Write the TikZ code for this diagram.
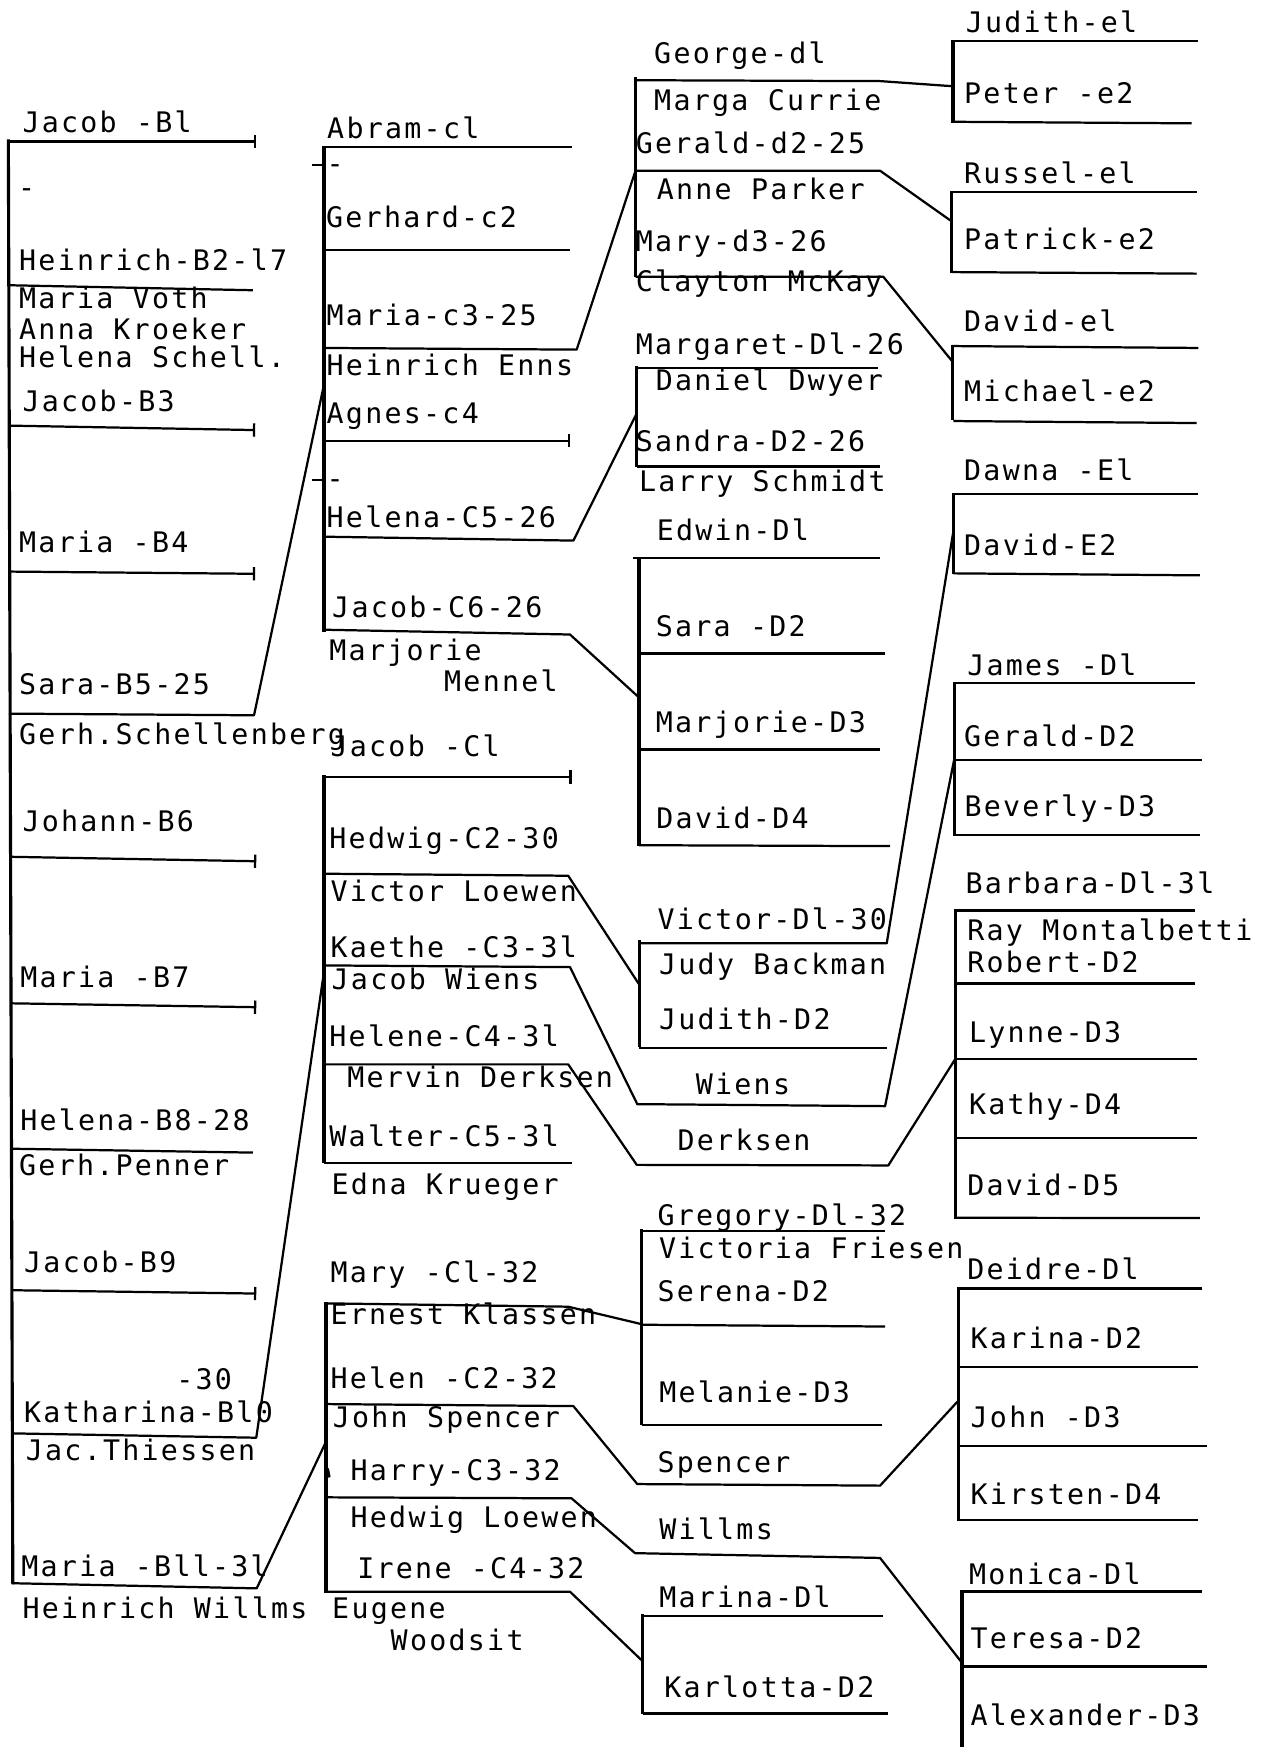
\documentclass[tikz,border=0pt]{standalone}
\usepackage{fontspec}
\usetikzlibrary{arrows.meta}
\newfontfamily\tw[LetterSpace=8]{DejaVu Sans Mono}
\tikzset{
  lbl/.style={anchor=base west, inner sep=0pt, yshift=-1pt, font=\tw\fontsize{25.4}{28}\selectfont},
  hl/.style={line width=2pt, line join=round},
  vl/.style={line width=2.8pt},
  endbar/.style={-{Bar[width=12pt]}},
}

\begin{document}
\begin{tikzpicture}[x=1pt, y=-1pt]
\fill[white] (0,0) rectangle (1139,1568);
\useasboundingbox (0,0) rectangle (1139,1568);

% junctions where a couple's line meets the bracket of its children
\coordinate (sch) at (290.8,345);
\coordinate (thi) at (291.7,866);
\coordinate (wil) at (292.6,1294);
\coordinate (enn) at (570.6,152.6);
\coordinate (hel) at (571.5,370.9);
\coordinate (men) at (573.5,626);
\coordinate (loe) at (573.6,883.5);
\coordinate (kla) at (576,1188.5);
\coordinate (woo) at (576.8,1491);
\coordinate (cur) at (855.1,77.4);
\coordinate (par) at (854.2,198.7);
\coordinate (mck) at (855,324.7);
\coordinate (bac) at (855.6,477.3);
\coordinate (wie) at (856.3,682.3);
\coordinate (der) at (857.5,950.3);
\coordinate (spe) at (860.2,1257.1);
\coordinate (wls) at (863.4,1492.4);

% generation B
\draw[vl] (7.5,125) -- (11.5,1422);
\node[lbl] (b1) at (20,118) {Jacob -Bl};
\draw[hl, endbar] (7.5,127) -- (230,127);
\node[lbl] (b1x) at (16,176) {-};
\node[lbl] (b2) at (17,242) {Heinrich-B2-l7};
\draw[hl] (7.5,256) -- (227,260.5);
\node[lbl] (b2a) at (17,276) {Maria Voth};
\node[lbl] (b2b) at (17,304) {Anna Kroeker};
\node[lbl] (b2c) at (17,329) {Helena Schell.};
\node[lbl] (b3) at (20,368) {Jacob-B3};
\draw[hl, endbar] (7.5,382) -- (229,386);
\node[lbl] (b4) at (17,495) {Maria -B4};
\draw[hl, endbar] (7.5,513) -- (229,515);
\node[lbl] (b5) at (17,622) {Sara-B5-25};
\draw[hl] (8,640.5) -- (228,642) -- (sch);
\node[lbl] (b5s) at (17,667) {Gerh.Schellenberg};
\node[lbl] (b6) at (20,745) {Johann-B6};
\draw[hl, endbar] (9,769) -- (230,773);
\node[lbl] (b7) at (18,885) {Maria -B7};
\draw[hl, endbar] (9,900.5) -- (230,904);
\node[lbl] (b8) at (18,1014) {Helena-B8-28};
\draw[hl] (9,1031) -- (227,1034.5);
\node[lbl] (b8s) at (17,1054) {Gerh.Penner};
\node[lbl] (b9) at (21.5,1141) {Jacob-B9};
\draw[hl, endbar] (10,1158) -- (230,1161);
\node[lbl] (b10y) at (158,1246) {-30};
\node[lbl] (b10) at (21.5,1276) {Katharina-Bl0};
\draw[hl] (11,1286.5) -- (230,1290.4) -- (thi);
\node[lbl] (b10s) at (23,1310) {Jac.Thiessen};
\node[lbl] (b11) at (19,1414) {Maria -Bll-3l};
\draw[hl] (11.5,1421) -- (230.4,1425.6) -- (wil);
\node[lbl] (b11s) at (20,1452) {Heinrich Willms};

% generation C, Schellenberg
\draw[vl] (290.8,131) -- (290.8,567);
\node[lbl] (c1) at (293.5,123.3) {Abram-cl};
\draw[hl] (290.8,132) -- (513,132);
\draw[hl] (279.7,148) -- (290.8,148);
\node[lbl] (c1x) at (293,155) {-};
\node[lbl] (c2) at (292.5,203) {Gerhard-c2};
\draw[hl] (290.8,224.4) -- (511.6,224.4);
\node[lbl] (c3) at (293,291) {Maria-c3-25};
\draw[hl] (290.8,312.3) -- (517.6,313.8) -- (enn);
\node[lbl] (c3s) at (293,336.2) {Heinrich Enns};
\node[lbl] (c4) at (293,378.8) {Agnes-c4};
\draw[hl, endbar] (290.8,395.5) -- (511.6,395.5);
\draw[hl] (279.7,430.8) -- (290.8,430.8);
\node[lbl] (c4x) at (293,437) {-};
\node[lbl] (c5) at (293,472) {Helena-C5-26};
\draw[hl] (290.8,481.7) -- (514.6,485.2) -- (hel);
\node[lbl] (c6) at (298,553.5) {Jacob-C6-26};
\draw[hl] (290.8,565.2) -- (511.6,569.5) -- (men);
\node[lbl] (c6s) at (295.5,592) {Marjorie};
\node[lbl] (c6t) at (398.5,619.5) {Mennel};

% generation C, Thiessen
\draw[vl] (290.8,696) -- (290.8,1044);
\node[lbl] (t1) at (296.5,677.7) {Jacob -Cl};
\draw[hl, endbar] (290.8,697.3) -- (513,697.3);
\node[lbl] (t2) at (295.5,761) {Hedwig-C2-30};
\draw[hl] (290.8,784.2) -- (510,786) -- (loe);
\node[lbl] (t2s) at (296.5,808.5) {Victor Loewen};
\node[lbl] (t3) at (296.5,858.3) {Kaethe -C3-3l};
\draw[hl] (290.8,866.5) -- (511.6,868) -- (572,991) -- (794.4,992.8) -- (wie);
\node[lbl] (t3s) at (297.5,887.2) {Jacob Wiens};
\node[lbl] (t4) at (295.5,938) {Helene-C4-3l};
\draw[hl] (290.8,955.3) -- (510,955.3) -- (571.5,1045.5) -- (797.3,1046) -- (der);
\node[lbl] (t4s) at (311.5,975.5) {Mervin Derksen};
\node[lbl] (t5) at (295.5,1028) {Walter-C5-3l};
\draw[hl] (290.8,1044) -- (513,1044);
\node[lbl] (t5s) at (297.5,1071.2) {Edna Krueger};

% generation C, Willms
\draw[vl] (292.6,1168.5) -- (292.6,1430);
\node[lbl] (w1) at (296.5,1150) {Mary -Cl-32};
\draw[hl] (292.6,1169.8) -- (510,1172.8) -- (kla);
\node[lbl] (w1s) at (296.5,1188) {Ernest Klassen};
\node[lbl] (w2) at (296.5,1245.6) {Helen -C2-32};
\draw[hl] (292.6,1260.2) -- (514.6,1262) -- (572,1332) -- (789.9,1333.4) -- (spe);
\node[lbl] (w2s) at (298.5,1280.5) {John Spencer};
\draw[line width=2.5pt] (294,1318) -- (295.5,1326);
\node[lbl] (w3) at (314.5,1327.4) {Harry-C3-32};
\draw[hl] (292.6,1343.9) -- (513,1344.8) -- (570,1394) -- (789.9,1398.3) -- (wls);
\node[lbl] (w3s) at (314.5,1369.8) {Hedwig Loewen};
\node[lbl] (w4) at (320.5,1416) {Irene -C4-32};
\draw[hl] (292.6,1428.6) -- (511.6,1428.6) -- (woo);
\node[lbl] (w4s) at (298,1452) {Eugene};
\node[lbl] (w4t) at (350.5,1480) {Woodsit};

% generation D
\draw[vl] (570.6,69.2) -- (570.6,248.4);
\node[lbl] (e1) at (587,56.3) {George-dl};
\draw[hl] (570.6,72) -- (790,72.8) -- (cur);
\node[lbl] (e1s) at (587,98.6) {Marga Currie};
\node[lbl] (e2) at (570.5,137) {Gerald-d2-25};
\draw[hl] (570.6,153.3) -- (790,153.3) -- (par);
\node[lbl] (e2s) at (589.3,178.4) {Anne Parker};
\node[lbl] (e3) at (570.5,224.3) {Mary-d3-26};
\draw[hl] (570.6,248.4) -- (792.8,248.4) -- (mck);
\node[lbl] (e3s) at (570.5,260.8) {Clayton McKay};

\draw[vl] (571.5,328.3) -- (571.5,418.8);
\node[lbl] (h1) at (570.5,316.9) {Margaret-Dl-26};
\draw[hl] (571.5,330) -- (788.4,330);
\node[lbl] (h1s) at (588.4,349.6) {Daniel Dwyer};
\node[lbl] (h2) at (570.5,403.8) {Sandra-D2-26};
\draw[hl] (571.5,418.8) -- (790,418.8);
\node[lbl] (h2s) at (573.5,440) {Larry Schmidt};

\draw[vl] (573.5,500) -- (573.5,759.5);
\node[lbl] (m1) at (589.3,484.4) {Edwin-Dl};
\draw[hl] (568.5,501.1) -- (790,501.1);
\node[lbl] (m2) at (588.4,570.5) {Sara -D2};
\draw[hl] (573.5,586.5) -- (794.4,586.5);
\node[lbl] (m3) at (588.4,656.5) {Marjorie-D3};
\draw[hl] (573.5,672.7) -- (789.9,672.7);
\node[lbl] (m4) at (589,742.6) {David-D4};
\draw[hl] (573.5,758.6) -- (798.8,759.4);

\draw[vl] (573.6,843.8) -- (573.6,940);
\node[lbl] (l1) at (590,833.2) {Victor-Dl-30};
\draw[hl] (573.6,846.6) -- (795.9,846.6) -- (bac);
\node[lbl] (l1s) at (591.4,874) {Judy Backman};
\node[lbl] (l2) at (591.4,922.6) {Judith-D2};
\draw[hl] (573.6,940.3) -- (795.9,940.3);
\node[lbl] (wiens) at (624.3,981.4) {Wiens};
\node[lbl] (derksen) at (608,1031.8) {Derksen};

\draw[vl] (576,1103.5) -- (576,1279.2);
\node[lbl] (k1) at (590,1099) {Gregory-Dl-32};
\draw[hl] (576,1104.6) -- (794.4,1104.6);
\node[lbl] (k1s) at (591.4,1128.9) {Victoria Friesen};
\node[lbl] (k2) at (590,1166.7) {Serena-D2};
\draw[hl] (576,1189) -- (794.4,1190.6);
\node[lbl] (k3) at (591.5,1258.1) {Melanie-D3};
\draw[hl] (576,1279.2) -- (791.4,1279.2);
\node[lbl] (spencer) at (590,1320.3) {Spencer};
\node[lbl] (willms) at (591.5,1380.4) {Willms};

\draw[vl] (576.8,1449) -- (576.8,1538.5);
\node[lbl] (o1) at (591.5,1441.5) {Marina-Dl};
\draw[hl] (576,1450.2) -- (792.8,1450.2);
\node[lbl] (o2) at (596,1522.6) {Karlotta-D2};
\draw[hl] (576.8,1537.9) -- (797.3,1537.9);

% generation E and last D brackets
\draw[line width=3.8pt] (855.1,36) -- (855.1,110);
\node[lbl] (f1) at (866.6,28.4) {Judith-el};
\draw[hl] (855.7,36.6) -- (1075.5,36.6);
\node[lbl] (f2) at (865.2,92.3) {Peter -e2};
\draw[hl] (855,109.3) -- (1069.6,110.7);

\draw[vl] (854.2,171) -- (854.2,245);
\node[lbl] (p1) at (865.2,163.3) {Russel-el};
\draw[hl] (854.2,172.1) -- (1074.1,172.1);
\node[lbl] (p2) at (865.2,223.1) {Patrick-e2};
\draw[hl] (854.2,244.2) -- (1074.1,245.6);

\draw[vl] (855,310) -- (855,377);
\node[lbl] (q1) at (865.2,296.4) {David-el};
\draw[hl] (854.2,310.6) -- (1075.5,312.3);
\node[lbl] (q2) at (865.2,359.7) {Michael-e2};
\draw[hl] (855.6,377.9) -- (1074.1,379.7);

\draw[vl] (855.6,442.5) -- (855.6,515.5);
\node[lbl] (r1) at (865.2,430.4) {Dawna -El};
\draw[hl] (855.6,443.6) -- (1075.5,443.6);
\node[lbl] (r2) at (865.2,497.9) {David-E2};
\draw[hl] (855.6,514.6) -- (1077,516.4);

\draw[vl] (856.3,612) -- (856.3,750.5);
\node[lbl] (s1) at (868,604.9) {James -Dl};
\draw[hl] (855.7,613) -- (1072.6,613);
\node[lbl] (s2) at (865.2,669.3) {Gerald-D2};
\draw[hl] (856.3,682.3) -- (1078.6,682.3);
\node[lbl] (s3) at (865.5,731.5) {Beverly-D3};
\draw[hl] (856.3,749.7) -- (1077,749.7);

\draw[vl] (857.5,816) -- (857.5,1094);
\node[lbl] (u1) at (866.5,801.2) {Barbara-Dl-3l};
\draw[hl] (857,817.2) -- (1072.6,817.2);
\node[lbl] (u1s) at (868,843.2) {Ray Montalbetti};
\node[lbl] (u2) at (868,872.2) {Robert-D2};
\draw[hl] (857.5,882.7) -- (1072.6,882.7);
\node[lbl] (u3) at (869.6,934.3) {Lynne-D3};
\draw[hl] (857.5,950.3) -- (1074,950.3);
\node[lbl] (u4) at (869.6,999.4) {Kathy-D4};
\draw[hl] (857.5,1021.1) -- (1074,1021.1);
\node[lbl] (u5) at (868,1072.1) {David-D5};
\draw[hl] (857.5,1093) -- (1077,1093.2);

\draw[vl] (860.2,1155.5) -- (860.2,1365);
\node[lbl] (v1) at (868,1147.7) {Deidre-Dl};
\draw[hl] (860.2,1156.5) -- (1078.6,1156.5);
\node[lbl] (v2) at (871,1209.5) {Karina-D2};
\draw[hl] (860.2,1227.2) -- (1075.5,1227.2);
\node[lbl] (v3) at (871,1280.3) {John -D3};
\draw[hl] (860.2,1297.7) -- (1083,1297.7);
\node[lbl] (v4) at (871,1349) {Kirsten-D4};
\draw[hl] (860.2,1364.2) -- (1075.5,1364.2);

\draw[vl] (863.4,1427.5) -- (863.4,1568);
\node[lbl] (x1) at (869.6,1421) {Monica-Dl};
\draw[hl] (861.6,1428.5) -- (1078.6,1428.5);
\node[lbl] (x2) at (871,1479) {Teresa-D2};
\draw[hl] (863.4,1495.7) -- (1083,1495.7);
\node[lbl] (x3) at (871,1547.6) {Alexander-D3};
\end{tikzpicture}
\end{document}
